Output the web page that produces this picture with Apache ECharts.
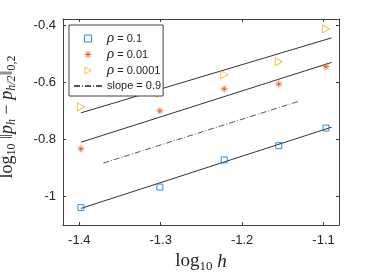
<!DOCTYPE html>
<html><head><meta charset="utf-8">
<script src="https://cdn.jsdelivr.net/npm/echarts@6/dist/echarts.min.js"></script>
<style>html,body{margin:0;padding:0;background:#fff}#c{width:374px;height:277px}</style>
</head><body><div id="c"></div>
<script>
// data
const logH = [-1.398, -1.301, -1.222, -1.155, -1.097];
const rho01 = [-1.039, -0.967, -0.872, -0.822, -0.760];
const rho001 = [-0.833, -0.700, -0.623, -0.606, -0.545];
const rho00001 = [-0.686, -0.639, -0.573, -0.528, -0.413];
const fitX = [-1.398, -1.09];
const fitTop = [-0.707, -0.444];
const fitMid = [-0.810, -0.530];
const fitBot = [-1.042, -0.757];
const slopeX = [-1.3705, -1.131];
const slopeY = [-0.883, -0.667];
const xTicks = [-1.4, -1.3, -1.2, -1.1];
const yTicks = [-1, -0.8, -0.6, -0.4];
const names = ['ρ = 0.1', 'ρ = 0.01', 'ρ = 0.0001', 'slope = 0.9'];

const zip = (xs, ys) => xs.map((x, i) => [x, ys[i]]);
const axisCol = '#404040';
const txtCol = '#262626';
const sans = 'Liberation Sans';
const serif = 'Liberation Serif';
const cBlue = '#0072BD', cOrange = '#D95319', cYellow = '#EDB120';
const sqPath = 'path://M0,0L10,0L10,10L0,10Z';
const starPath = 'path://M5,0L5,10M0,5L10,5M1.5,1.5L8.5,8.5M1.5,8.5L8.5,1.5';
const triPath = 'path://M0,0L9,5L0,10Z';

const xBase = {type: 'value', min: -1.42, max: -1.081, splitLine: {show: false},
  axisLine: {show: true, onZero: false, lineStyle: {color: axisCol, width: 1}},
  axisTick: {show: true, inside: true, length: 3, customValues: xTicks, lineStyle: {color: axisCol}}};
const yBase = {type: 'value', min: -1.1, max: -0.378, splitLine: {show: false},
  axisLine: {show: true, onZero: false, lineStyle: {color: axisCol, width: 1}},
  axisTick: {show: true, inside: true, length: 3, customValues: yTicks, lineStyle: {color: axisCol}}};

const richName = (big, small) => ({
  r: {fontFamily: serif, fontSize: big, color: txtCol, lineHeight: big + 4, verticalAlign: 'middle'},
  i: {fontFamily: serif, fontStyle: 'italic', fontSize: big, color: txtCol, lineHeight: big + 4, verticalAlign: 'middle'},
  s: {fontFamily: serif, fontSize: small, color: txtCol, lineHeight: small, verticalAlign: 'bottom'},
  si: {fontFamily: serif, fontStyle: 'italic', fontSize: small, color: txtCol, lineHeight: small, verticalAlign: 'bottom'}
});

const chart = echarts.init(document.getElementById('c'), null, {renderer: 'canvas'});
chart.setOption({
  animation: false,
  grid: {left: 63, right: 35, top: 19, bottom: 52, containLabel: false, outerBoundsMode: 'none'},
  xAxis: [
    Object.assign({}, xBase, {position: 'bottom',
      axisLabel: {customValues: xTicks, color: txtCol, fontFamily: sans, fontSize: 13, margin: 9},
      name: '{r|log}{s|10}{r| }{i|h}', nameLocation: 'middle', nameGap: 25,
      nameTextStyle: {rich: richName(19, 13)}}),
    Object.assign({}, xBase, {position: 'top', axisLabel: {show: false}})
  ],
  yAxis: [
    Object.assign({}, yBase, {position: 'left',
      axisLabel: {customValues: yTicks, color: txtCol, fontFamily: sans, fontSize: 13, margin: 7},
      name: '{r|log}{s|10}{r| ‖}{i|p}{si|h}{r| − }{i|p}{si|h/2}{r|‖}{s|0,2}',
      nameLocation: 'middle', nameGap: 45, nameRotate: 90,
      nameTextStyle: {padding: [0, 0, 0, 10], rich: richName(18, 12)}}),
    Object.assign({}, yBase, {position: 'right', axisLabel: {show: false}})
  ],
  legend: {
    data: [
      {name: names[0], icon: sqPath, itemStyle: {color: 'rgba(0,0,0,0)', borderColor: cBlue, borderWidth: 1}},
      {name: names[1], icon: starPath, itemStyle: {color: 'rgba(0,0,0,0)', borderColor: cOrange, borderWidth: 1}},
      {name: names[2], icon: triPath, itemStyle: {color: 'rgba(0,0,0,0)', borderColor: cYellow, borderWidth: 1}},
      {name: names[3], itemStyle: {opacity: 0}}
    ],
    orient: 'vertical', left: 69, top: 25,
    padding: [6, 2, 3, 4], itemGap: 1, itemWidth: 28, itemHeight: 7,
    borderColor: axisCol, borderWidth: 1, backgroundColor: '#fff',
    textStyle: {color: txtCol, fontFamily: sans, fontSize: 11, lineHeight: 14, rich: {
      i: {fontFamily: serif, fontStyle: 'italic', fontSize: 15, color: txtCol}
    }},
    formatter: n => n.replace('ρ', '{i|ρ}')
  },
  series: [
    {type: 'line', data: zip(fitX, fitTop), symbol: 'none', lineStyle: {color: '#333', width: 1}, silent: true, z: 1},
    {type: 'line', data: zip(fitX, fitMid), symbol: 'none', lineStyle: {color: '#333', width: 1}, silent: true, z: 1},
    {type: 'line', data: zip(fitX, fitBot), symbol: 'none', lineStyle: {color: '#333', width: 1}, silent: true, z: 1},
    {name: names[3], type: 'line', data: zip(slopeX, slopeY), symbol: 'none',
      lineStyle: {color: '#555', width: 1, type: [6, 2, 1, 2]}, z: 1},
    {name: names[0], type: 'scatter', data: zip(logH, rho01), symbol: sqPath, symbolSize: 6,
      itemStyle: {color: 'rgba(0,0,0,0)', borderColor: cBlue, borderWidth: 1}, z: 3},
    {name: names[1], type: 'scatter', data: zip(logH, rho001), symbol: starPath, symbolSize: 7,
      itemStyle: {color: 'rgba(0,0,0,0)', borderColor: cOrange, borderWidth: 1}, z: 3},
    {name: names[2], type: 'scatter', data: zip(logH, rho00001), symbol: triPath, symbolSize: [7, 8],
      itemStyle: {color: 'rgba(0,0,0,0)', borderColor: cYellow, borderWidth: 1}, z: 3}
  ]
});
</script></body></html>
